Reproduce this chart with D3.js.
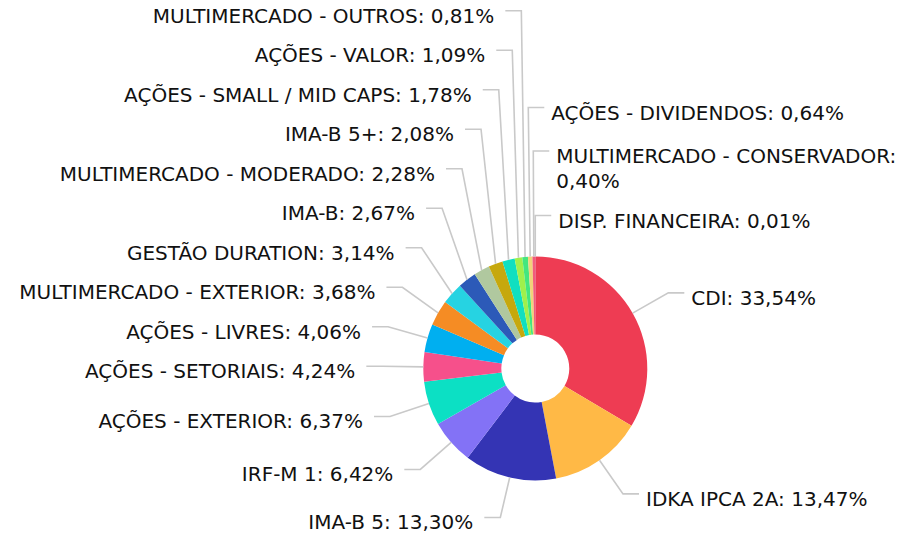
<!DOCTYPE html>
<html>
<head>
<meta charset="utf-8">
<script src="https://cdn.jsdelivr.net/npm/d3@7"></script>
<style>
  body { margin: 0; background: #fff; }
</style>
</head>
<body>
<svg id="svgx"></svg>
<script>
var categories = [
  "CDI", "IDKA IPCA 2A", "IMA-B 5", "IRF-M 1", "AÇÕES - EXTERIOR",
  "AÇÕES - SETORIAIS", "AÇÕES - LIVRES", "MULTIMERCADO - EXTERIOR",
  "GESTÃO DURATION", "IMA-B", "MULTIMERCADO - MODERADO", "IMA-B 5+",
  "AÇÕES - SMALL / MID CAPS", "AÇÕES - VALOR", "MULTIMERCADO - OUTROS",
  "AÇÕES - DIVIDENDOS", "MULTIMERCADO - CONSERVADOR", "DISP. FINANCEIRA"
];
var shares = [33.54, 13.47, 13.30, 6.42, 6.37, 4.24, 4.06, 3.68, 3.14, 2.67, 2.28, 2.08, 1.78, 1.09, 0.81, 0.64, 0.40, 0.01];
var sliceColors = [
  "#ee3c53", "#ffb946", "#3434b4", "#8372f6", "#0ce0c4", "#f6508b",
  "#00aff0", "#f58c24", "#26d3e2", "#2c5ab8", "#b0c89f", "#c6a80d",
  "#10dfc0", "#a0f04c", "#44e67e", "#f2d27a", "#f25c7c", "#8f6df0"
];

var widthA = 902, heightA = 534;
var cx = 535.3, cy = 368.5;
var rOuter = 112, rInner = 34;
var len1 = 41, len2 = 16;
var fontsize = 20, lineH = 25, boxH = 39.5, wrapPad = 4;

var svg = d3.select('#svgx')
  .attr('width', widthA)
  .attr('height', heightA)
  .style('font-family', '"DejaVu Sans", Verdana, sans-serif');

var g = svg.append('g').attr('transform', `translate(${cx},${cy})`);

var pie = d3.pie().sort(null).value(d => d);
var arcs = pie(shares);
var arc = d3.arc().innerRadius(rInner).outerRadius(rOuter);

g.selectAll('.slice')
  .data(arcs)
  .enter()
  .append('path')
  .attr('class', 'slice')
  .attr('d', arc)
  .attr('fill', (d, i) => sliceColors[i]);

function fmt(v) { return v.toFixed(2).replace('.', ','); }

// measuring helper
var meas = svg.append('text').style('font-size', fontsize).attr('opacity', 0);
function textW(s) { meas.text(s); return meas.node().getComputedTextLength(); }

var labels = arcs.map((d, i) => {
  var mid = (d.startAngle + d.endAngle) / 2;
  var ax = rOuter * Math.sin(mid), ay = -rOuter * Math.cos(mid);
  var ex = (rOuter + len1) * Math.sin(mid), ey = -(rOuter + len1) * Math.cos(mid);
  // slices hugging 12 o'clock go with the right column
  var right = ax > -7;
  var signed = mid > Math.PI ? mid - 2 * Math.PI : mid;
  return {i: i, mid: mid, signed: signed, ax: ax, ay: ay, ex: ex, ey: ey, y: ey, right: right,
          text: `${categories[i]}: ${fmt(shares[i])}%`, lines: null};
});

// wrap long labels to the space that is left
labels.forEach(l => {
  var endX = l.right ? l.ex + len2 : l.ex - len2;
  var avail = l.right ? (widthA - (cx + endX + 7) - 4) : (cx + endX - 11 - 4);
  if (textW(l.text) <= avail) { l.lines = [l.text]; return; }
  var words = l.text.split(' '), lines = [], cur = '';
  words.forEach(w => {
    var t = cur ? cur + ' ' + w : w;
    if (cur && textW(t) > avail) { lines.push(cur); cur = w; } else cur = t;
  });
  lines.push(cur);
  l.lines = lines;
});

// push overlapping labels upward, from the bottom of each column
function layoutSide(list) {
  for (var k = list.length - 2; k >= 0; k--) {
    var hUp = boxH + (list[k].lines.length - 1) * lineH;
    var extra = (list[k + 1].lines.length - 1) * wrapPad;
    list[k].y = Math.min(list[k].y, list[k + 1].y - hUp - extra);
  }
}
var leftL = labels.filter(l => !l.right).sort((a, b) => b.mid - a.mid);
var rightL = labels.filter(l => l.right).sort((a, b) => a.signed - b.signed);
layoutSide(leftL);
layoutSide(rightL);

var lab = g.selectAll('.lab')
  .data(labels)
  .enter()
  .append('g')
  .attr('class', 'lab');

lab.append('polyline')
  .attr('points', l => {
    var endX = l.right ? l.ex + len2 : l.ex - len2;
    return [[l.ax, l.ay], [l.ex, l.y], [endX, l.y]].map(p => p.join(',')).join(' ');
  })
  .attr('fill', 'none')
  .attr('stroke', '#c9c9c9')
  .attr('stroke-width', 1.6);

lab.append('text')
  .attr('y', l => l.y + 12)
  .attr('text-anchor', l => l.right ? 'start' : 'end')
  .style('font-size', fontsize)
  .attr('fill', '#111')
  .selectAll('tspan')
  .data(l => l.lines.map(s => ({s: s, x: l.right ? l.ex + len2 + 7 : l.ex - len2 - 11})))
  .enter()
  .append('tspan')
  .attr('x', d => d.x)
  .attr('dy', (d, k) => k === 0 ? 0 : lineH)
  .text(d => d.s);

meas.remove();
</script>
</body>
</html>
